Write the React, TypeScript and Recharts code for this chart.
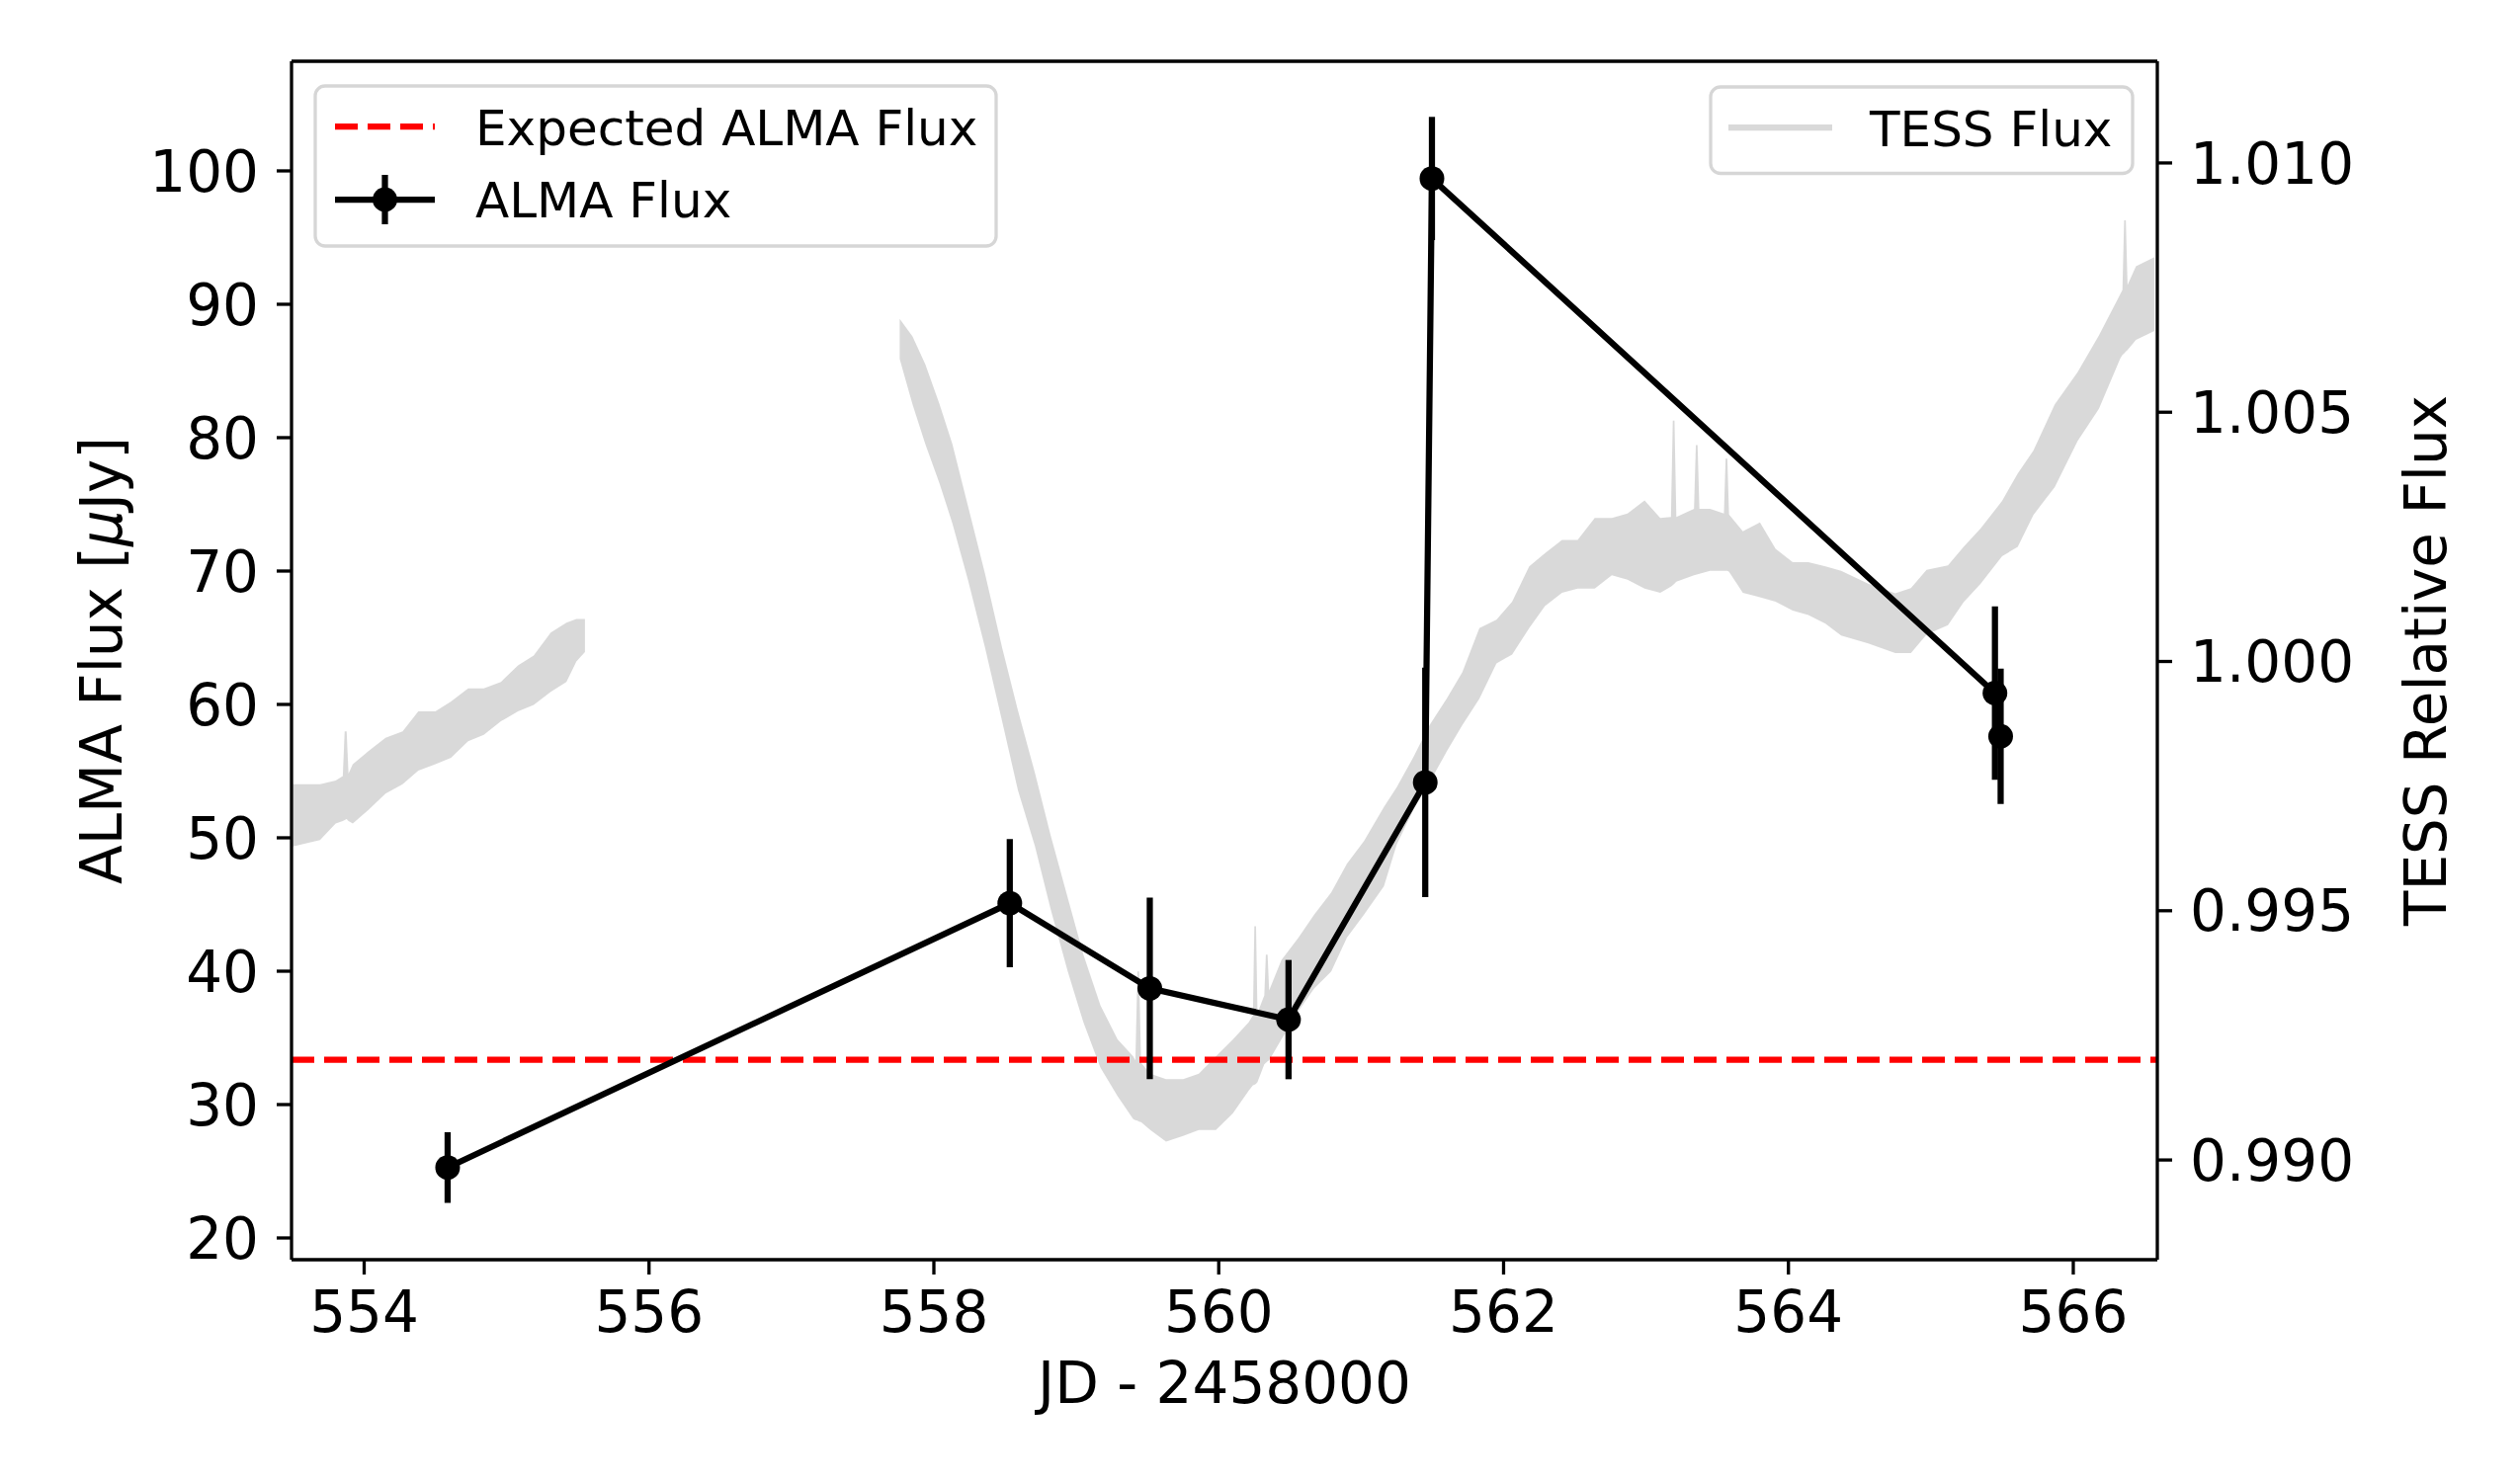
import React from "react"
import {
  ComposedChart,
  Line,
  Area,
  XAxis,
  YAxis,
  ErrorBar,
  ReferenceLine,
} from "recharts"

// ALMA measurements (JD - 2458000, flux in uJy, 1-sigma error)
const almaDay = [554.586, 558.533, 559.516, 560.49, 561.45, 561.497, 565.45, 565.49]
const almaFlux = [25.28, 45.1, 38.71, 36.37, 54.15, 99.43, 60.85, 57.61]
const almaErr = [2.65, 4.8, 6.8, 4.47, 8.6, 4.62, 6.5, 5.07]

const expectedAlma = 33.36

// TESS light curve, read as the lower / upper edge of the noisy band (null = data gap)
const tessDay = [
  553.5, 553.69, 553.8, 553.85, 553.863, 553.877, 553.89, 553.92, 554.03, 554.15, 554.27,
  554.38, 554.5, 554.61, 554.73, 554.84, 554.96, 555.08, 555.19, 555.31, 555.42,
  555.49, 555.55,
  556.6,
  557.76, 557.85, 557.94, 558.04, 558.13, 558.24, 558.36, 558.48, 558.59, 558.71,
  558.82, 558.94, 559.05, 559.17, 559.29, 559.4, 559.415, 559.429, 559.441, 559.455, 559.52,
  559.63, 559.75, 559.86, 559.98, 560.1, 560.21, 560.24, 560.25, 560.262, 560.272,
  560.32, 560.331, 560.343, 560.354, 560.44, 560.56, 560.67, 560.79, 560.9, 561.02, 561.16, 561.25,
  561.37, 561.48, 561.6, 561.71, 561.83, 561.95, 562.06, 562.18, 562.29, 562.41,
  562.52, 562.64, 562.76, 562.87, 562.99, 563.1, 563.175, 563.188, 563.2, 563.213,
  563.337, 563.35, 563.362, 563.375, 563.45, 563.547, 563.559, 563.571, 563.583,
  563.68, 563.8, 563.91, 564.03,
  564.14, 564.26, 564.37, 564.56, 564.75, 564.86, 564.97, 565.12, 565.23, 565.35,
  565.5, 565.61, 565.72, 565.87, 566.03, 566.18, 566.33, 566.345, 566.357, 566.369, 566.381,
  566.44, 566.57,
]
const tessLow = [
  0.99629, 0.99642, 0.99675, 0.9968, 0.99682, 0.99684, 0.9968, 0.99675, 0.99702, 0.99735, 0.99754,
  0.99781, 0.99794, 0.99807, 0.9984, 0.99853, 0.9988, 0.999, 0.99913, 0.99939, 0.99959,
  1.0, 1.00019,
  null,
  1.00607, 1.00516, 1.00436, 1.00357, 1.00277, 1.00163, 1.00027, 0.99879, 0.99742, 0.99629,
  0.99503, 0.99378, 0.99276, 0.99185, 0.99128, 0.99082, 0.9908, 0.99079, 0.99077, 0.99076, 0.9906,
  0.99037, 0.99048, 0.9906, 0.9906, 0.99094, 0.99139, 0.9915, 0.99151, 0.99153, 0.99156,
  0.99192, 0.99195, 0.99198, 0.992, 0.99242, 0.99299, 0.99344, 0.99378, 0.99446, 0.99492, 0.99549, 0.99633,
  0.99704, 0.99757, 0.99819, 0.99872, 0.99925, 0.99996, 1.00014, 1.00067, 1.00111, 1.00138,
  1.00146, 1.00146, 1.00173, 1.00164, 1.00146, 1.00138, 1.0015, 1.00153, 1.00156, 1.0016,
  1.00173, 1.00174, 1.00175, 1.00176, 1.00182, 1.00182, 1.00182, 1.00182, 1.0018,
  1.00138, 1.00129, 1.0012, 1.00102,
  1.00093, 1.00076, 1.00052, 1.00036, 1.00017, 1.00017, 1.00054, 1.00073, 1.00119, 1.00156,
  1.00211, 1.0023, 1.00294, 1.0035, 1.00442, 1.00507, 1.00608, 1.00615, 1.00618, 1.00622, 1.00625,
  1.00645, 1.00663,
]
const tessHigh = [
  0.99754, 0.99754, 0.99761, 0.9977, 0.9986, 0.9986, 0.99775, 0.99794, 0.9982, 0.99847, 0.9986,
  0.999, 0.999, 0.9992, 0.99946, 0.99946, 0.99959, 0.99992, 1.00012, 1.00058, 1.00078,
  1.00085, 1.00085,
  null,
  1.00687, 1.00652, 1.00596, 1.00516, 1.00436, 1.00311, 1.00175, 1.00027, 0.99902, 0.99776,
  0.99651, 0.99526, 0.99412, 0.9931, 0.99242, 0.99208, 0.992, 0.99378, 0.99378, 0.99195, 0.99173,
  0.99162, 0.99162, 0.99173, 0.99208, 0.99242, 0.99276, 0.9929, 0.99469, 0.99469, 0.99295,
  0.9933, 0.99412, 0.99412, 0.9934, 0.99401, 0.99446, 0.99492, 0.99537, 0.99594, 0.9964, 0.99708, 0.99748,
  0.9981, 0.99872, 0.99925, 0.99978, 1.00067, 1.00084, 1.0012, 1.00191, 1.00217, 1.00244,
  1.00244, 1.00288, 1.00288, 1.00297, 1.00323, 1.00288, 1.0029, 1.00483, 1.00483, 1.0029,
  1.00306, 1.00434, 1.00434, 1.00306, 1.00306, 1.00297, 1.00407, 1.00407, 1.00295,
  1.00261, 1.00279, 1.00226, 1.00199,
  1.00199, 1.00191, 1.00182, 1.00156, 1.00137, 1.00147, 1.00184, 1.00193, 1.0023, 1.00267,
  1.00322, 1.00377, 1.00423, 1.00516, 1.0058, 1.00654, 1.00737, 1.00745, 1.00885, 1.00885, 1.00755,
  1.00793, 1.00811,
]

const xTicks = [554, 556, 558, 560, 562, 564, 566]
const almaTicks = [20, 30, 40, 50, 60, 70, 80, 90, 100]
const tessTicks = [0.99, 0.995, 1.0, 1.005, 1.01]

const almaData = almaDay.map((d, i) => ({ day: d, flux: almaFlux[i], err: almaErr[i] }))
const tessData = tessDay.map((d, i) => ({
  day: d,
  band: tessLow[i] == null ? null : [tessLow[i], tessHigh[i]],
}))

const FONT = "'DejaVu Sans', sans-serif"
const tickStyle = { fill: "#000", fontSize: 58, fontFamily: FONT }
const spine = { stroke: "#000", strokeWidth: 3.3 }
const almaDomain = [18.37, 108.22]

export default function App() {
  return (
    <div style={{ position: "absolute", left: 0, top: 0, width: 2550, height: 1500, background: "#fff", fontFamily: FONT }}>
      <ComposedChart width={2550} height={1500} margin={{ top: 62, right: 0, bottom: 0, left: 0 }}>
        <XAxis
          dataKey="day"
          type="number"
          domain={[553.49, 566.59]}
          allowDataOverflow
          ticks={xTicks}
          height={225}
          tick={tickStyle}
          tickSize={15}
          tickMargin={17}
          axisLine={spine}
          tickLine={spine}
        />
        <YAxis
          yAxisId="alma"
          type="number"
          domain={almaDomain}
          allowDataOverflow
          ticks={almaTicks}
          width={295}
          tick={tickStyle}
          tickSize={15}
          tickMargin={18}
          axisLine={spine}
          tickLine={spine}
        />
        <YAxis
          yAxisId="tess"
          orientation="right"
          type="number"
          domain={[0.988, 1.01204]}
          allowDataOverflow
          ticks={tessTicks}
          tickFormatter={(v) => v.toFixed(3)}
          width={367}
          tick={tickStyle}
          tickSize={15}
          tickMargin={18}
          axisLine={spine}
          tickLine={spine}
        />
        {/* top spine of the frame */}
        <ReferenceLine yAxisId="alma" y={almaDomain[1]} stroke="#000" strokeWidth={3.3} ifOverflow="visible" />
        <ReferenceLine
          yAxisId="alma"
          y={expectedAlma}
          stroke="#ff0000"
          strokeWidth={6.25}
          strokeDasharray="23 10"
        />
        <Line
          yAxisId="alma"
          data={almaData}
          dataKey="flux"
          type="linear"
          stroke="#000"
          strokeWidth={6.25}
          dot={{ r: 12.5, fill: "#000", stroke: "#000", strokeWidth: 0 }}
          activeDot={false}
          isAnimationActive={false}
        >
          <ErrorBar dataKey="err" direction="y" width={0} stroke="#000" strokeWidth={6.25} />
        </Line>
        <Area
          yAxisId="tess"
          data={tessData}
          dataKey="band"
          type="linear"
          fill="#808080"
          fillOpacity={0.3}
          stroke="none"
          dot={false}
          activeDot={false}
          isAnimationActive={false}
        />
      </ComposedChart>

      <svg
        width={2550}
        height={1500}
        style={{ position: "absolute", left: 0, top: 0, pointerEvents: "none" }}
        fontFamily={FONT}
      >
        {/* axis titles */}
        <text x={1239} y={1420} fontSize={58} textAnchor="middle" fill="#000">
          JD - 2458000
        </text>
        <text x={123} y={668.5} fontSize={58} textAnchor="middle" fill="#000" transform="rotate(-90 123 668.5)">
          ALMA Flux [<tspan fontStyle="italic">μ</tspan>Jy]
        </text>
        <text x={2475} y={668.5} fontSize={58} textAnchor="middle" fill="#000" transform="rotate(-90 2475 668.5)">
          TESS Relative Flux
        </text>

        {/* left legend */}
        <rect x={319} y={87} width={689} height={162} rx={10} fill="#fff" fillOpacity={0.8} stroke="#d6d6d6" strokeWidth={3.3} />
        <line x1={339} x2={440} y1={128} y2={128} stroke="#ff0000" strokeWidth={6.25} strokeDasharray="23 10" />
        <text x={481} y={147} fontSize={50} fill="#000">Expected ALMA Flux</text>
        <line x1={339} x2={440} y1={202} y2={202} stroke="#000" strokeWidth={6.25} />
        <line x1={389.5} x2={389.5} y1={177} y2={227} stroke="#000" strokeWidth={6.25} />
        <circle cx={389.5} cy={202} r={12.5} fill="#000" />
        <text x={481} y={220} fontSize={50} fill="#000">ALMA Flux</text>

        {/* right legend */}
        <rect x={1731} y={88} width={427} height={87.5} rx={10} fill="#fff" fillOpacity={0.8} stroke="#d6d6d6" strokeWidth={3.3} />
        <line x1={1749} x2={1854} y1={129} y2={129} stroke="#808080" strokeOpacity={0.3} strokeWidth={6.25} />
        <text x={1892} y={147.5} fontSize={50} fill="#000">TESS Flux</text>
      </svg>
    </div>
  )
}
